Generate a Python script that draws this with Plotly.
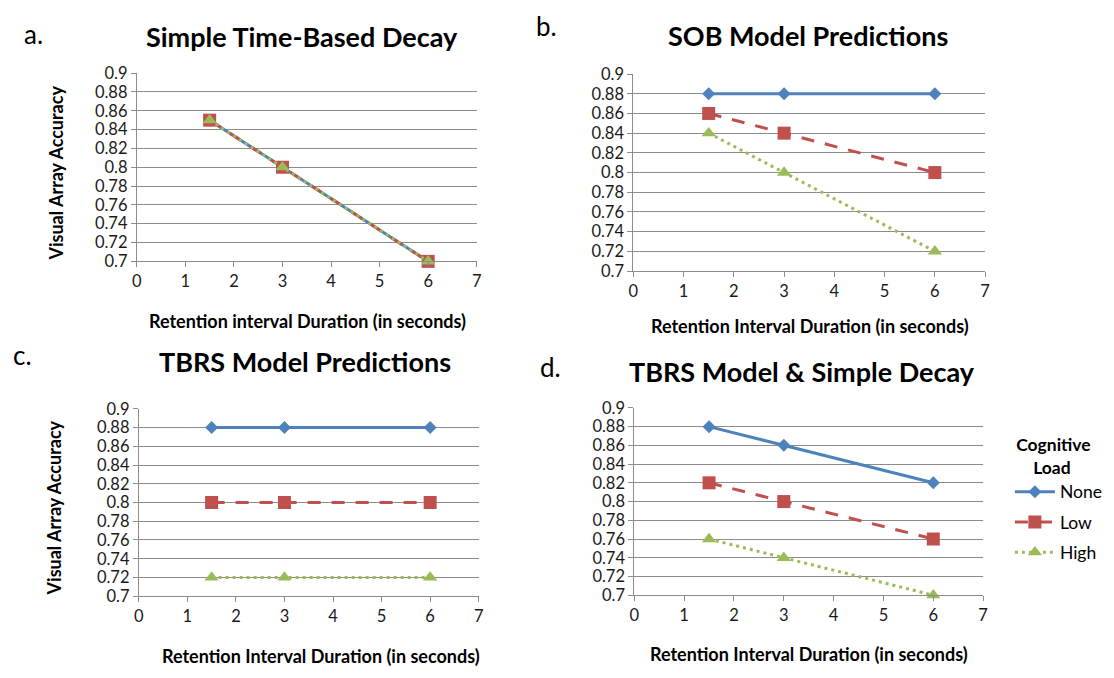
import plotly.graph_objects as go

# ---- data ----
x_vals = [1.5, 3, 6]
series_names = ["None", "Low", "High"]

a_none = [0.85, 0.80, 0.70]
a_low = [0.85, 0.80, 0.70]
a_high = [0.85, 0.80, 0.70]

b_none = [0.88, 0.88, 0.88]
b_low = [0.86, 0.84, 0.80]
b_high = [0.84, 0.80, 0.72]

c_none = [0.88, 0.88, 0.88]
c_low = [0.80, 0.80, 0.80]
c_high = [0.72, 0.72, 0.72]

d_none = [0.88, 0.86, 0.82]
d_low = [0.82, 0.80, 0.76]
d_high = [0.76, 0.74, 0.70]

panel_titles = ["Simple Time-Based Decay", "SOB Model Predictions",
                "TBRS Model Predictions", "TBRS Model & Simple Decay"]
panel_letters = ["a.", "b.", "c.", "d."]
x_titles = ["Retention interval Duration (in seconds)",
            "Retention Interval Duration (in seconds)",
            "Retention Interval Duration (in seconds)",
            "Retention Interval Duration (in seconds)"]
y_title = "Visual Array Accuracy"
legend_title = "<b>&nbsp;Cognitive</b><br><b>&nbsp;&nbsp;&nbsp;&nbsp;&nbsp;Load</b>"

# ---- styling ----
W, H = 1114, 678
FONT = "Lato"
colors = ["#4F81BD", "#C0504D", "#9BBB59"]
dashes = ["solid", "13px,11px", "3px,4px"]
symbols = ["diamond", "square", "triangle-up"]
msizes = [10, 13, 12.5]
grid = "#8C8C8C"

# plot areas in pixels: (left, right, top, bottom)
boxes = [(133, 476, 65, 259), (634, 989, 66, 269),
         (135, 478, 411, 604), (635, 987, 410, 603)]

fig = go.Figure()
data = [(a_none, a_low, a_high), (b_none, b_low, b_high),
        (c_none, c_low, c_high), (d_none, d_low, d_high)]

annotations = []
for i, (box, ser) in enumerate(zip(boxes, data)):
    l, r, t, b = box
    sfx = "" if i == 0 else str(i + 1)
    xa = "x" + sfx
    ya = "y" + sfx
    for k in range(3):
        fig.add_trace(go.Scatter(
            x=x_vals, y=ser[k], name=series_names[k], mode="lines+markers",
            xaxis=xa, yaxis=ya, cliponaxis=False, legendgroup=series_names[k],
            line=dict(color=colors[k], width=3, dash=dashes[k]),
            marker=dict(symbol=symbols[k], size=msizes[k], color=colors[k]),
            showlegend=(i == 3),
        ))
    axkw = dict(showline=True, linecolor=grid, linewidth=1, ticks="outside",
                ticklen=5, tickcolor=grid,
                tickfont=dict(family=FONT, size=16.5, color="#1a1a1a"),
                zeroline=False)
    fig.layout["xaxis" + sfx] = dict(domain=[l / W, r / W], anchor=ya, range=[0, 7],
                                     dtick=1, showgrid=False, **axkw)
    fig.layout["yaxis" + sfx] = dict(domain=[1 - b / H, 1 - t / H], anchor=xa,
                                     range=[0.7, 0.9], dtick=0.02, showgrid=True,
                                     gridcolor=grid, gridwidth=1, **axkw)

# titles
title_pos = [(300, 27), (810, 26), (303, 362), (804, 372)]
letter_pos = [(29, 25), (546, 16), (18, 356), (550, 368)]
xt_pos = [(305, 320), (812, 326), (319, 666), (811, 664)]
for i in range(4):
    annotations.append(dict(text="<b>" + panel_titles[i] + "</b>", x=title_pos[i][0] / W,
                            y=1 - title_pos[i][1] / H, xref="paper", yref="paper",
                            showarrow=False, font=dict(family=FONT, size=27, color="black"),
                            xanchor="center", yanchor="middle"))
    annotations.append(dict(text=panel_letters[i], x=letter_pos[i][0] / W,
                            y=1 - letter_pos[i][1] / H, xref="paper", yref="paper",
                            showarrow=False, font=dict(family=FONT, size=26, color="black"),
                            xanchor="center", yanchor="middle"))
    annotations.append(dict(text="<b>" + x_titles[i] + "</b>", x=xt_pos[i][0] / W,
                            y=1 - xt_pos[i][1] / H, xref="paper", yref="paper",
                            showarrow=False, font=dict(family=FONT, size=18, color="black"),
                            xanchor="center", yanchor="middle"))
for (yx, yy) in [(52, 168), (49, 513)]:
    annotations.append(dict(text="<b>" + y_title + "</b>", x=yx / W, y=1 - yy / H,
                            xref="paper", yref="paper", showarrow=False, textangle=-90,
                            font=dict(family=FONT, size=18, color="black"),
                            xanchor="center", yanchor="middle"))

fig.update_layout(
    width=W, height=H, margin=dict(l=0, r=0, t=0, b=0),
    paper_bgcolor="white", plot_bgcolor="white",
    annotations=annotations,
    font=dict(family=FONT),
    legend=dict(x=1014 / W, y=1 - 431 / H, xanchor="left", yanchor="top",
                title=dict(text=legend_title, side="top",
                           font=dict(family=FONT, size=17.5, color="black")),
                font=dict(family=FONT, size=17.5, color="black"),
                tracegroupgap=4.5, traceorder="grouped",
                bgcolor="rgba(0,0,0,0)", itemwidth=40),
)

fig.write_html("out.html")
